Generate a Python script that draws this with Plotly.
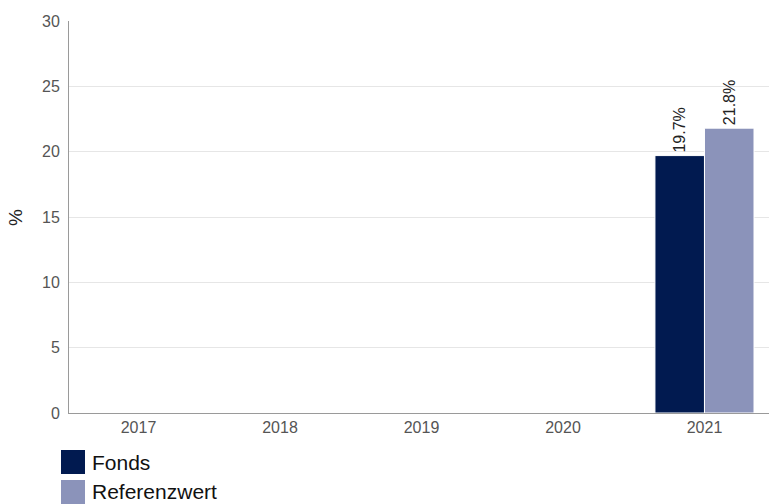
import plotly.graph_objects as go

years = ["2017", "2018", "2019", "2020", "2021"]
fonds = [None, None, None, None, 19.7]
referenz = [None, None, None, None, 21.8]
series_names = ["Fonds", "Referenzwert"]
colors = ["#011a50", "#8b93ba"]
y_title = "%"

FONT = "Liberation Sans, Arial, sans-serif"

def labels(vals):
    return [("" if v is None else f"{v:.1f}%") for v in vals]

fig = go.Figure()
for name, vals, col in zip(series_names, [fonds, referenz], colors):
    fig.add_trace(go.Bar(
        x=years, y=vals, name=name,
        marker=dict(color=col, line=dict(color="#ffffff", width=1)),
        text=labels(vals), textposition="outside", textangle=-90,
        textfont=dict(family=FONT, size=16, color="#222222"),
        cliponaxis=False, showlegend=False,
    ))

L, T, B = 69, 21, 91
PW, PH = 769 - L, 504 - T - B

fig.update_layout(
    width=769, height=504,
    margin=dict(l=L, r=0, t=T, b=B, autoexpand=False),
    paper_bgcolor="white", plot_bgcolor="white",
    barmode="group", bargap=0.3, bargroupgap=0.0,
    font=dict(family=FONT, size=16, color="#555555"),
    xaxis=dict(type="category", range=[-0.491, 4.456], showline=True,
               linecolor="#9a9a9a", linewidth=1,
               automargin=False, ticks="", tickfont=dict(size=16, color="#555555"),
               showgrid=False),
    yaxis=dict(range=[0, 30], dtick=5, showline=True, linecolor="#9a9a9a", linewidth=1,
               automargin=False, gridcolor="#e6e6e6", zeroline=False,
               tickfont=dict(size=16, color="#555555"), ticks="", ticklabelstandoff=5),
)

# y-axis title
fig.add_annotation(text=y_title, xref="paper", yref="paper",
                   x=(15 - L) / PW, y=(T + PH - 218) / PH,
                   xanchor="center", yanchor="middle", textangle=-90, showarrow=False,
                   font=dict(family=FONT, size=19, color="#222222"))

# legend drawn as squares + text
leg_y = [462, 492]
for name, col, yc in zip(series_names, colors, leg_y):
    fig.add_shape(type="rect", xref="paper", yref="paper",
                  x0=(61 - L) / PW, x1=(85 - L) / PW,
                  y0=(T + PH - (yc + 12)) / PH, y1=(T + PH - (yc - 12)) / PH,
                  line=dict(width=0), fillcolor=col)
    fig.add_annotation(text=name, xref="paper", yref="paper",
                       x=(90 - L) / PW, y=(T + PH - yc) / PH,
                       xanchor="left", yanchor="middle", showarrow=False,
                       font=dict(family=FONT, size=21, color="#111111"))

post = ("document.body.style.margin='0';document.body.style.overflow='hidden';"
        "var gd=document.getElementById('{plot_id}');"
        "Plotly.relayout(gd,{width:769,height:504});")

fig.write_html("out.html", post_script=post, config={"displayModeBar": False})
